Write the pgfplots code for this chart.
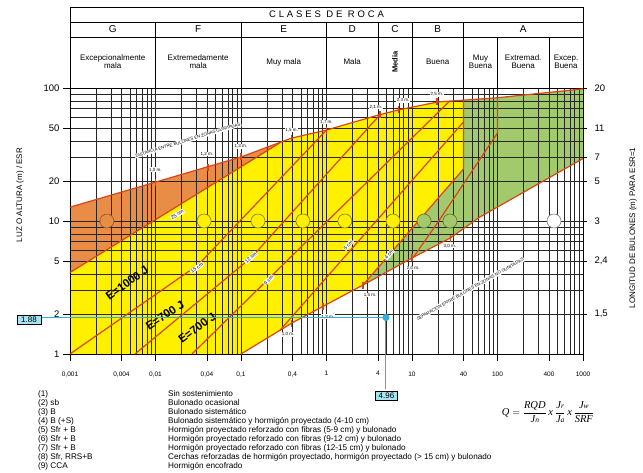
\documentclass[border=0pt]{standalone}
\usepackage{amsmath}
\usepackage{fontspec}
\setmainfont{Liberation Sans}
\newfontfamily\timesf{Liberation Serif}
\usepackage{pgfplots}
\pgfplotsset{compat=1.18}
\definecolor{orr}{RGB}{232,140,70}
\definecolor{yel}{RGB}{255,240,0}
\definecolor{grn}{RGB}{162,202,108}
\definecolor{redl}{RGB}{218,68,22}
\definecolor{cyl}{RGB}{45,175,215}
\definecolor{boxc}{RGB}{165,228,240}
\newcommand{\fs}[1]{\fontsize{#1}{#1}\selectfont}
\newcommand{\ti}[1]{\hbox{\timesf\itshape\fs{10.5}#1}}
\newcommand{\tsub}[1]{\hbox{\timesf\itshape\fs{7.5}#1}}
\tikzset{rl/.style={color=redl, line width=1.2pt, mark=none, solid}}
\begin{document}
\begin{tikzpicture}
\begin{scope}[x=1pt,y=1pt]
\useasboundingbox (0,0) rectangle (643,473);
% ---------- header table
\draw[line width=0.7pt] (70,385) rectangle (583,466);
\draw[line width=0.5pt] (70,451)--(583,451) (70,436)--(583,436);
\foreach \xx in {155.5,241,326.5,378,412,463.5} \draw[line width=0.5pt] (\xx,451)--(\xx,385);
\foreach \xx in {497.5,549} \draw[line width=0.5pt] (\xx,436)--(\xx,385);
\node[font=\fs{9.5}] at (326.5,458.5) {\addfontfeatures{LetterSpace=30}CLASES DE ROCA};
\foreach \xx/\tt in {112.7/G,198.2/F,283.7/E,352.2/D,395/C,437.7/B,523.2/A}
  \node[font=\fs{10}] at (\xx,443.5) {\tt};
\node[font=\fs{8},align=center] at (112.7,411) {Excepcionalmente\\mala};
\node[font=\fs{8},align=center] at (198.2,411) {Extremedamente\\mala};
\node[font=\fs{8},align=center] at (283.7,411) {Muy mala};
\node[font=\fs{8},align=center] at (352.2,411) {Mala};
\node[font=\fs{7.5}\bfseries,rotate=90] at (395,411) {Media};
\node[font=\fs{8},align=center] at (437.7,411) {Buena};
\node[font=\fs{8},align=center] at (480.5,411) {Muy\\Buena};
\node[font=\fs{8},align=center] at (523.2,411) {Extremad.\\Buena};
\node[font=\fs{8},align=center] at (566,411) {Excep.\\Buena};
\end{scope}
% ---------- fills
\begin{axis}[at={(70pt,119pt)}, anchor=south west, scale only axis, width=513pt, height=266pt,
  xmode=log, ymode=log, xmin=0.001, xmax=1000, ymin=1, ymax=100, hide axis]
\addplot[fill=orr, draw=none] coordinates {(0.001,12.7)(0.01,19.6)(0.1,30.3)(0.286,38.8)(0.001,4.1)};
\addplot[fill=yel, draw=none] coordinates {(0.001,1)(0.1,1)(0.4,1.72)(2.67,3.3)(40,24.6)(40,81)(20,78.5)(7,68.5)(4,62.5)(1,48.3)(0.39,42)(0.286,38.8)(0.001,4.1)};
\addplot[fill=grn, draw=none] coordinates {(2.67,3.3)(10,5.27)(28,7.45)(62,10.7)(1000,29.5)(1000,98.5)(100,84.5)(40,81)(40,24.6)};
\end{axis}
% ---------- main axis
\begin{axis}[at={(70pt,119pt)}, anchor=south west, scale only axis, width=513pt, height=266pt,
  xmode=log, ymode=log, xmin=0.001, xmax=1000, ymin=1, ymax=100, clip=false,
  xtick={0.001,0.004,0.01,0.04,0.1,0.4,1,4,10,40,100,400,1000},
  xticklabels={{0,001},{0,004},{0,01},{0,04},{0,1},{0,4},1,4,10,40,100,400,1000},
  minor xtick={0.002,0.003,0.005,0.006,0.007,0.008,0.009,0.02,0.03,0.05,0.06,0.07,0.08,0.09,0.2,0.3,0.5,0.6,0.7,0.8,0.9,2,3,5,6,7,8,9,20,30,50,60,70,80,90,200,300,500,600,700,800,900},
  ytick={1,2,5,10,20,50,100}, yticklabels={1,2,5,10,20,50,100},
  minor ytick={3,4,6,7,8,9,30,40,60,70,80,90},
  grid=both, major grid style={black!85,line width=0.45pt}, minor grid style={black!85,line width=0.45pt},
  tick align=outside, major tick length=7pt, minor tick length=0pt,
  xtick pos=bottom, ytick pos=left,
  every tick/.style={black,line width=0.5pt},
  xticklabel style={font=\fs{6.5}, yshift=-7pt},
  yticklabel style={font=\fs{9.5}},
  axis line style={line width=0.8pt}]
% boundaries
\addplot[rl] coordinates {(0.001,12.7)(0.01,19.6)(0.1,30.3)(0.39,42)(1,48.3)(4,62.5)(7,68.5)(20,78.5)(40,81)(100,84.5)(1000,98.5)};
\addplot[rl] coordinates {(0.1,1)(0.4,1.72)(2.67,3.3)(10,5.27)(28,7.45)(62,10.7)(1000,29.5)};
\addplot[rl] coordinates {(0.001,4.1)(0.286,38.8)};
\addplot[rl] coordinates {(0.001,1)(0.0314,4.67)(1,48.3)};
\addplot[rl] coordinates {(0.00575,1)(0.134,5.36)(4.23,63)};
\addplot[rl] coordinates {(0.0267,1)(27.7,80)};
\addplot[rl] coordinates {(0.286,1.51)(40,55.5)};
\addplot[rl] coordinates {(2.67,3.3)(40,24.6)(40,81)};
\addplot[rl] coordinates {(100,84.5)(100,45.9)(20.1,9.8)(10.3,5.3)};
% marks
\addplot[only marks, mark=|, mark size=3.5pt, mark options={redl,line width=1.3pt}] coordinates {(0.01,19.6)(0.041,25.4)(0.1,30.3)(0.39,42)(1,48.3)(4.23,63)(6.9,68.4)(19.6,78.5)};
\addplot[only marks, mark=|, mark size=3.5pt, mark options={redl,line width=1.3pt}] coordinates {(0.39,1.71)(0.91,2.28)(2.67,3.3)(10,5.27)(28,7.45)};
% circles
\addplot[only marks, mark=*, mark size=7pt, mark options={fill=orr, draw=brown!70!black, line width=0.6pt}] coordinates {(0.0027,10)};
\addplot[only marks, mark=*, mark size=7pt, mark options={fill=yel, draw=olive!90!black, line width=0.6pt}] coordinates {(0.037,10)(0.158,10)(0.53,10)(1.64,10)(6.0,10)};
\addplot[only marks, mark=*, mark size=7pt, mark options={fill=grn, draw=olive!70!black, line width=0.6pt}] coordinates {(13.8,10)(27.8,10)};
\addplot[only marks, mark=*, mark size=7pt, mark options={fill=white, draw=gray, line width=0.6pt}] coordinates {(458,10)};
\tikzset{cl/.style={font=\fs{3}, align=center, inner sep=0pt}}
\node[cl] at (axis cs:0.0027,10) {CCA\\9};
\node[cl] at (axis cs:0.037,10) {Sfr+B\\8};
\node[cl] at (axis cs:0.158,10) {Sfr+B\\7};
\node[cl] at (axis cs:0.53,10) {Sfr+B\\6};
\node[cl] at (axis cs:1.64,10) {Sfr+B\\5};
\node[cl] at (axis cs:6.0,10) {B(+S)\\4};
\node[cl] at (axis cs:13.8,10) {B\\3};
\node[cl] at (axis cs:27.8,10) {sb\\2};
\node[cl] at (axis cs:458,10) {1};
% line labels
\tikzset{lab/.style={fill=white, inner sep=0.7pt, font=\fs{5}}}
\node[lab, rotate=31] at (axis cs:0.018,11.2) {25 cm};
\node[lab, rotate=36] at (axis cs:0.0305,4.45) {15 cm};
\node[lab, rotate=42] at (axis cs:0.13,5.3) {12 cm};
\node[lab, rotate=44] at (axis cs:0.21,3.6) {9 cm};
\node[lab, rotate=48] at (axis cs:1.8,6.6) {5 cm};
\node[lab, rotate=49] at (axis cs:5.4,5.6) {4 cm};
\tikzset{ml/.style={fill=white, inner sep=0.6pt, font=\fs{4.5}}}
\node[ml] at (axis cs:0.01,24.2) {1,0 m.};
\node[ml] at (axis cs:0.04,31.9) {1,2 m.};
\node[ml] at (axis cs:0.1,36.6) {1,3 m.};
\node[ml] at (axis cs:0.39,48.3) {1,5 m.};
\node[ml] at (axis cs:1.0,55.5) {1,7 m.};
\node[ml] at (axis cs:3.79,72) {2,1 m.};
\node[ml] at (axis cs:7.85,80.5) {2,3 m.};
\node[ml] at (axis cs:19.6,90) {2,5 m.};
\node[ml] at (axis cs:0.355,1.41) {1,0 m.};
\node[ml] at (axis cs:1.04,1.90) {1,3 m.};
\node[ml] at (axis cs:3.23,2.78) {1,5 m.};
\node[ml] at (axis cs:10.3,4.43) {2,0 m.};
\node[ml] at (axis cs:27.8,6.49) {3,0 m.};
\node[fill=white, inner sep=0.8pt, font=\fs{4.3}, rotate=17] at (axis cs:0.024,40.6) {DISTANCIA ENTRE BULONES EN ZONAS GUNITADAS};
\node[fill=white, inner sep=0.8pt, font=\fs{4.3}, rotate=29.5] at (axis cs:47.7,3.08) {SEPARACIÓN ENTRE BULONES EN ZONAS NO GUNITADAS};
\node[font=\fs{11.5}\bfseries, rotate=36] at (axis cs:0.00464,3.42) {E=1000 J};
\node[font=\fs{11.5}\bfseries, rotate=33] at (axis cs:0.0129,1.96) {E=700 J};
\node[font=\fs{11.5}\bfseries, rotate=36.6] at (axis cs:0.0306,1.57) {E=700 J};
% blue annotation
\addplot[cyl, line width=1pt, mark=none] coordinates {(0.000471,1.88)(4.96,1.88)(4.96,0.55)};
\addplot[only marks, mark=*, mark size=3.3pt, mark options={fill=cyl, draw=cyl}] coordinates {(4.96,1.88)};
\end{axis}
% ---------- right axis
\begin{axis}[at={(70pt,119pt)}, anchor=south west, scale only axis, width=513pt, height=266pt,
  xmode=log, ymode=log, xmin=0.001, xmax=1000, ymin=1, ymax=100,
  hide x axis, axis y line*=right, axis line style={line width=0.8pt},
  ytick={2,5,10,20,30,50,100}, yticklabels={{1,5},{2,4},3,5,7,11,20},
  minor ytick={}, tick align=outside, major tick length=4pt,
  every tick/.style={black,line width=0.5pt},
  yticklabel style={font=\fs{9.5}, xshift=4pt}]
\end{axis}
% ---------- outside labels
\begin{scope}[x=1pt,y=1pt]
\node[font=\fs{8}, rotate=90] at (20,278) {LUZ O ALTURA (m) / ESR};
\node[font=\fs{8}, rotate=90] at (633,245) {LONGITUD DE BULONES (m) PARA ESR=1};
\node[draw=black, line width=0.5pt, fill=boxc, font=\fs{8}, inner sep=1.5pt, minimum width=24pt] at (29,153) {1.88};
\node[draw=black, line width=0.5pt, fill=boxc, font=\fs{8}, inner sep=1.5pt, minimum width=22pt] at (386.5,77) {4.96};
% legend
\foreach \i/\a/\b in {0/(1)/Sin sostenimiento, 1/(2) sb/Bulonado ocasional, 2/(3) B/Bulonado sistemático, 3/(4) B (+S)/Bulonado sistemático y hormigón proyectado (4-10 cm), 4/(5) Sfr + B/Hormigón proyectado reforzado con fibras (5-9 cm) y bulonado, 5/(6) Sfr + B/Hormigón proyectado reforzado con fibras (9-12 cm) y bulonado, 6/(7) Sfr + B/Hormigón proyectado reforzado con fibras (12-15 cm) y bulonado, 7/{(8) Sfr, RRS+B}/{Cerchas reforzadas de hormigón proyectado, hormigón proyectado (> 15 cm) y bulonado}, 8/(9) CCA/Hormigón encofrado}
{
  \node[anchor=west, font=\fs{8.2}, inner sep=0pt] at (38,79-9*\i) {\a};
  \node[anchor=west, font=\fs{8.2}, inner sep=0pt] at (168,79-9*\i) {\b};
}
\node at (548,61) {\ti{Q} $=\dfrac{\ti{RQD}}{\ti{J}\tsub{n}}$\,\ti{x}\,$\dfrac{\ti{J}\tsub{r}}{\ti{J}\tsub{a}}$\,\ti{x}\,$\dfrac{\ti{J}\tsub{w}}{\ti{SRF}}$};
\end{scope}
\end{tikzpicture}
\end{document}
